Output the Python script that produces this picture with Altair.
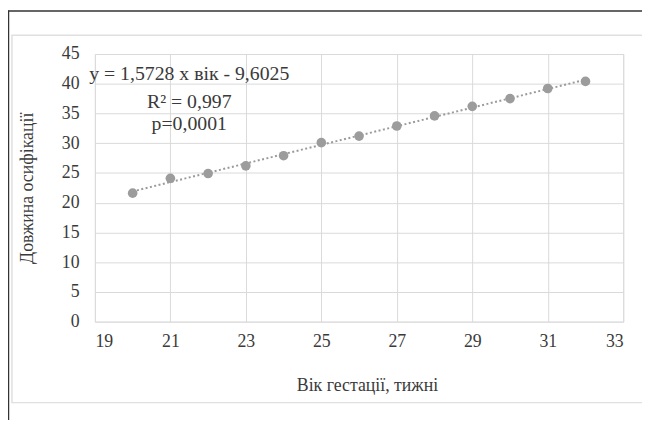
import altair as alt
import pandas as pd

weeks = [20, 21, 22, 23, 24, 25, 26, 27, 28, 29, 30, 31, 32]
lengths = [21.6, 24.1, 24.9, 26.2, 27.9, 30.1, 31.2, 32.9, 34.6, 36.2, 37.5, 39.2, 40.4]

ann_text = ["y = 1,5728 x вік - 9,6025", "R² = 0,997", "p=0,0001"]
ann_x = [21.5, 21.5, 21.5]
ann_y = [41.7, 37.0, 33.2]

x_ticks = [19, 21, 23, 25, 27, 29, 31, 33]
y_ticks = [0, 5, 10, 15, 20, 25, 30, 35, 40, 45]

df = pd.DataFrame({"week": weeks, "length": lengths})
ann = pd.DataFrame({"t": ann_text, "x": ann_x, "y": ann_y})

FONT = "'Times New Roman', 'Liberation Serif', serif"
W, H = 535, 271

xs = alt.Scale(domain=[19, 33], nice=False, zero=False)
ys = alt.Scale(domain=[0, 45], nice=False)

xaxis = alt.Axis(values=x_ticks, labelPadding=11, titleX=W / 2 + 8, titleY=65, titleBaseline="middle",
                 titleAlign="center")
yaxis = alt.Axis(values=y_ticks, labelPadding=16, titleX=-68, titleY=H / 2, titleAngle=-90,
                 titleBaseline="middle", titleAlign="center")

X = lambda f: alt.X(f, scale=xs, axis=xaxis, title="Вік гестації, тижні")
Y = lambda f: alt.Y(f, scale=ys, axis=yaxis, title="Довжина осифікації")

# decorative frames
inner_box = alt.Chart(pd.DataFrame({"a": [0]})).mark_rect(
    fillOpacity=0, stroke="#e0e0e0", strokeWidth=1.5
).encode(x=alt.value(-84), x2=alt.value(560), y=alt.value(-19), y2=alt.value(353))

outer_top = alt.Chart(pd.DataFrame({"a": [0]})).mark_rule(color="#333333", strokeWidth=1.5).encode(
    x=alt.value(-88), x2=alt.value(560), y=alt.value(-43.5))
outer_left = alt.Chart(pd.DataFrame({"a": [0]})).mark_rule(color="#333333", strokeWidth=1.5).encode(
    x=alt.value(-87.5), y=alt.value(-44), y2=alt.value(380))

base = alt.Chart(df)

trend = base.transform_regression("week", "length", extent=[20, 32]).mark_line(
    color="#9a9a9a", strokeDash=[2, 2.5], strokeWidth=2
).encode(x=X("week:Q"), y=Y("length:Q"))

pts = base.mark_circle(size=95, color="#9c9c9c", opacity=1).encode(
    x=X("week:Q"), y=Y("length:Q"))

text = alt.Chart(ann).mark_text(font=FONT, fontSize=20, color="#3a3a3a", align="center", baseline="middle").encode(
    x=X("x:Q"), y=Y("y:Q"), text="t:N")

chart = alt.layer(inner_box, outer_top, outer_left, trend, pts, text).properties(
    width=W, height=H,
    autosize=alt.AutoSizeParams(type="none"),
    padding={"left": 88, "top": 44, "right": 19, "bottom": 97},
).configure_view(stroke=None).configure(background="white").configure_axis(
    grid=True, domain=False, ticks=False, gridColor="#d9d9d9",
    labelFont=FONT, labelFontSize=18, labelColor="#3a3a3a", labelOverlap=False,
    titleFont=FONT, titleFontSize=18, titleFontWeight="normal", titleColor="#3a3a3a",
)

chart.save("out.html", embed_options={"renderer": "svg", "actions": False})
